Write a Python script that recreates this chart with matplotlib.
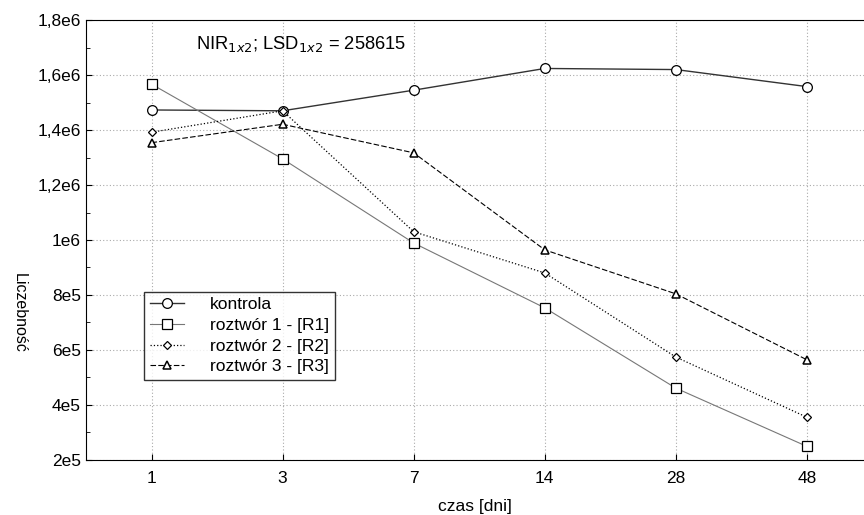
import numpy as np
import matplotlib
matplotlib.use("Agg")
import matplotlib.pyplot as plt
from matplotlib.ticker import FuncFormatter, MultipleLocator

plt.rcParams['font.family'] = ['Liberation Sans', 'DejaVu Sans']

dni = ["1", "3", "7", "14", "28", "48"]
kontrola = [1.473e6, 1.470e6, 1.545e6, 1.624e6, 1.620e6, 1.558e6]
r1 = [1.567e6, 1.295e6, 0.989e6, 0.753e6, 0.461e6, 0.249e6]
r2 = [1.392e6, 1.470e6, 1.030e6, 0.880e6, 0.574e6, 0.355e6]
r3 = [1.354e6, 1.421e6, 1.317e6, 0.964e6, 0.804e6, 0.564e6]

fig = plt.figure(figsize=(8.64, 5.15), dpi=100)
ax = fig.add_axes([0.0995, 0.107, 0.9005, 0.854])
x = np.arange(len(dni))

ax.plot(x, kontrola, '-', color='#333333', lw=1.0, marker='o', ms=7,
        mfc='white', mec='black', mew=0.9, label='kontrola')
ax.plot(x, r1, '-', color='#777777', lw=0.8, marker='s', ms=7,
        mfc='white', mec='black', mew=0.9, label='roztwór 1 - [R1]')
ax.plot(x, r2, ':', color='black', lw=0.9, marker='D', ms=4.5,
        mfc='white', mec='black', mew=0.9, label='roztwór 2 - [R2]')
ax.plot(x, r3, '--', color='black', lw=0.8, dashes=(5, 2), marker='^', ms=6,
        mfc='white', mec='black', mew=1.1, label='roztwór 3 - [R3]')

ax.set_xlim(-0.5, 5.435)
ax.set_ylim(2e5, 1.8e6)
ax.set_xticks(x)
ax.set_xticklabels(dni)
ax.yaxis.set_major_locator(MultipleLocator(2e5))
ax.yaxis.set_minor_locator(MultipleLocator(1e5))


def fmt(v, pos):
    m = v / 1e6
    if m >= 1:
        s = ("%g" % round(m, 1)).replace('.', ',')
        return s + "e6"
    return ("%g" % round(v / 1e5, 1)).replace('.', ',') + "e5"


ax.yaxis.set_major_formatter(FuncFormatter(fmt))
ax.tick_params(axis='both', which='both', direction='in', labelsize=12.5)
ax.tick_params(axis='y', which='major', length=4)
ax.tick_params(axis='y', which='minor', length=3)
ax.tick_params(axis='x', length=4, pad=8)
ax.grid(True, which='major', linestyle=(0, (1, 2)), color='#aaaaaa', lw=0.8)
ax.spines['right'].set_visible(False)

ax.set_xlabel('czas [dni]', fontsize=12.5, labelpad=9)
fig.text(0.022, 0.392, 'Liczebność', rotation=270, va='center', ha='center',
         fontsize=11.5)

ax.text(0.141, 0.945, r'NIR$_{1x2}$; LSD$_{1x2}$ = 258615', transform=ax.transAxes,
        fontsize=13.2, va='center', ha='left')

leg = ax.legend(loc='upper left', bbox_to_anchor=(0.075, 0.382), fontsize=12.5,
                frameon=True, fancybox=False, edgecolor='black',
                handlelength=2.0, handletextpad=1.5, borderpad=0.3,
                labelspacing=0.32, borderaxespad=0)
leg.get_frame().set_linewidth(1.0)

fig.savefig('out.png', dpi=100)
